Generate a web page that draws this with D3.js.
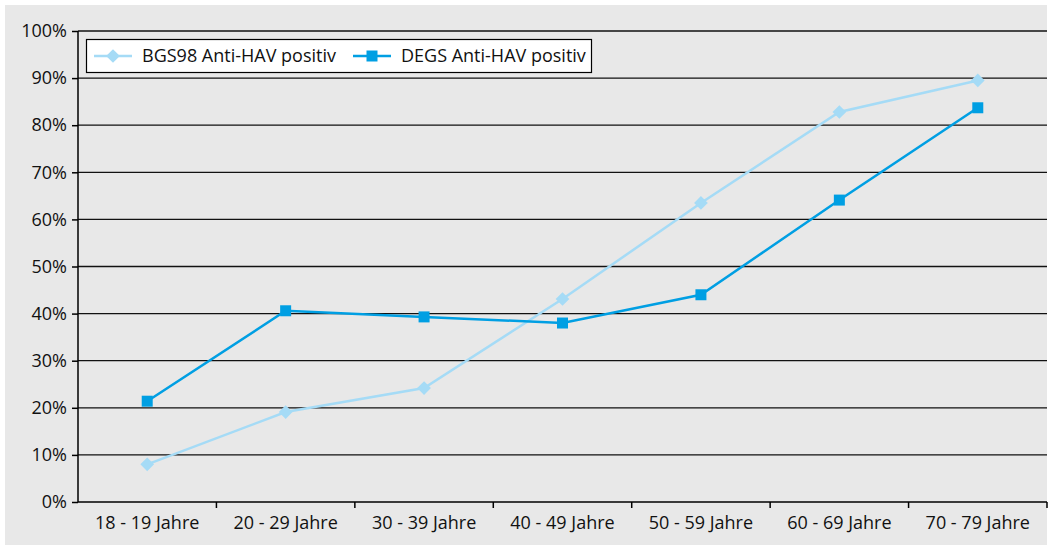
<!DOCTYPE html>
<meta charset="utf-8">
<style>
body { margin: 0; background: #fff; }
text { font-family: "Open Sans", "Noto Sans", sans-serif; fill: #111; }
.axis text { font-size: 18px; }
.legend text { font-size: 18px; }
</style>
<svg width="1048" height="546"></svg>
<script src="https://d3js.org/d3.v7.min.js"></script>
<script>

var categories = ["18 - 19 Jahre", "20 - 29 Jahre", "30 - 39 Jahre", "40 - 49 Jahre",
                  "50 - 59 Jahre", "60 - 69 Jahre", "70 - 79 Jahre"];
var bgs98 = [8, 19.1, 24.2, 43.1, 63.5, 82.8, 89.5];
var degs = [21.4, 40.6, 39.3, 38.0, 44.0, 64.1, 83.7];
var yTicks = [0, 10, 20, 30, 40, 50, 60, 70, 80, 90, 100];
var seriesNames = ["BGS98 Anti-HAV positiv", "DEGS Anti-HAV positiv"];

var svg = d3.select("svg"),
    plotLeft = 78, plotRight = 1047, plotTop = 31, plotBottom = 502;

svg.append("rect")
    .attr("x", 5).attr("y", 5)
    .attr("width", 1042).attr("height", 540)
    .attr("fill", "#e8e8e8");

var x = d3.scaleBand().domain(categories).range([plotLeft, plotRight]);
var y = d3.scaleLinear().domain([0, 100]).range([plotBottom, plotTop]);

// grid
svg.append("g")
  .selectAll("line")
  .data(yTicks.slice(1))
  .enter().append("line")
    .attr("x1", plotLeft).attr("x2", plotRight)
    .attr("y1", function(d) { return y(d); })
    .attr("y2", function(d) { return y(d); })
    .attr("stroke", "#111")
    .attr("stroke-width", 1.3);

var yAxis = svg.append("g")
    .attr("class", "axis")
    .attr("transform", "translate(" + plotLeft + ",0)")
    .call(d3.axisLeft(y).tickValues(yTicks).tickSize(6).tickPadding(5)
      .tickFormat(function(d) { return d + "%"; }));
yAxis.attr("font-size", null).attr("font-family", null);
yAxis.selectAll("line, path").attr("stroke", "#000").attr("stroke-width", 1.5);
yAxis.select(".domain").attr("d", "M0," + plotBottom + "V" + plotTop);

// x axis ticks sit on band boundaries
var xg = svg.append("g")
    .attr("class", "axis")
    .attr("transform", "translate(0," + plotBottom + ")");
xg.append("line")
    .attr("x1", plotLeft).attr("x2", plotRight)
    .attr("stroke", "#000").attr("stroke-width", 1.5);
xg.selectAll(".tk")
  .data(categories)
  .enter().append("line")
    .attr("class", "tk")
    .attr("x1", function(d) { return x(d) + x.bandwidth(); })
    .attr("x2", function(d) { return x(d) + x.bandwidth(); })
    .attr("y1", 0).attr("y2", 6)
    .attr("stroke", "#000").attr("stroke-width", 1.5);
xg.selectAll("text")
  .data(categories)
  .enter().append("text")
    .attr("x", function(d) { return x(d) + x.bandwidth() / 2; })
    .attr("y", 27)
    .attr("text-anchor", "middle")
    .text(function(d) { return d; });

var cx = function(d, i) { return x(categories[i]) + x.bandwidth() / 2; };
var line = d3.line().x(cx).y(function(d) { return y(d); });

var light = "#a5dbf6", dark = "#009fe3";

svg.append("path").datum(bgs98)
    .attr("d", line).attr("fill", "none")
    .attr("stroke", light).attr("stroke-width", 2.5);
svg.append("path").datum(degs)
    .attr("d", line).attr("fill", "none")
    .attr("stroke", dark).attr("stroke-width", 2.5);

var diamond = d3.symbol().type(d3.symbolDiamond2).size(120);
var square = d3.symbol().type(d3.symbolSquare).size(121);

svg.append("g").selectAll("path")
  .data(bgs98)
  .enter().append("path")
    .attr("d", diamond)
    .attr("transform", function(d, i) { return "translate(" + cx(d, i) + "," + y(d) + ")"; })
    .attr("fill", light);

svg.append("g").selectAll("path")
  .data(degs)
  .enter().append("path")
    .attr("d", square)
    .attr("transform", function(d, i) { return "translate(" + cx(d, i) + "," + y(d) + ")"; })
    .attr("fill", dark);

// legend
var legend = svg.append("g").attr("class", "legend");
legend.append("rect")
    .attr("x", 86.5).attr("y", 39.5)
    .attr("width", 505).attr("height", 33)
    .attr("fill", "#fff").attr("stroke", "#000").attr("stroke-width", 1.2);

var items = [
  { name: seriesNames[0], color: light, sym: diamond, x0: 94 },
  { name: seriesNames[1], color: dark, sym: square, x0: 353 }
];
items.forEach(function(it) {
  legend.append("line")
      .attr("x1", it.x0).attr("x2", it.x0 + 38)
      .attr("y1", 56).attr("y2", 56)
      .attr("stroke", it.color).attr("stroke-width", 2.5);
  legend.append("path")
      .attr("d", it.sym)
      .attr("transform", "translate(" + (it.x0 + 19) + ",56)")
      .attr("fill", it.color);
  legend.append("text")
      .attr("x", it.x0 + 48).attr("y", 62)
      .text(it.name);
});

</script>
